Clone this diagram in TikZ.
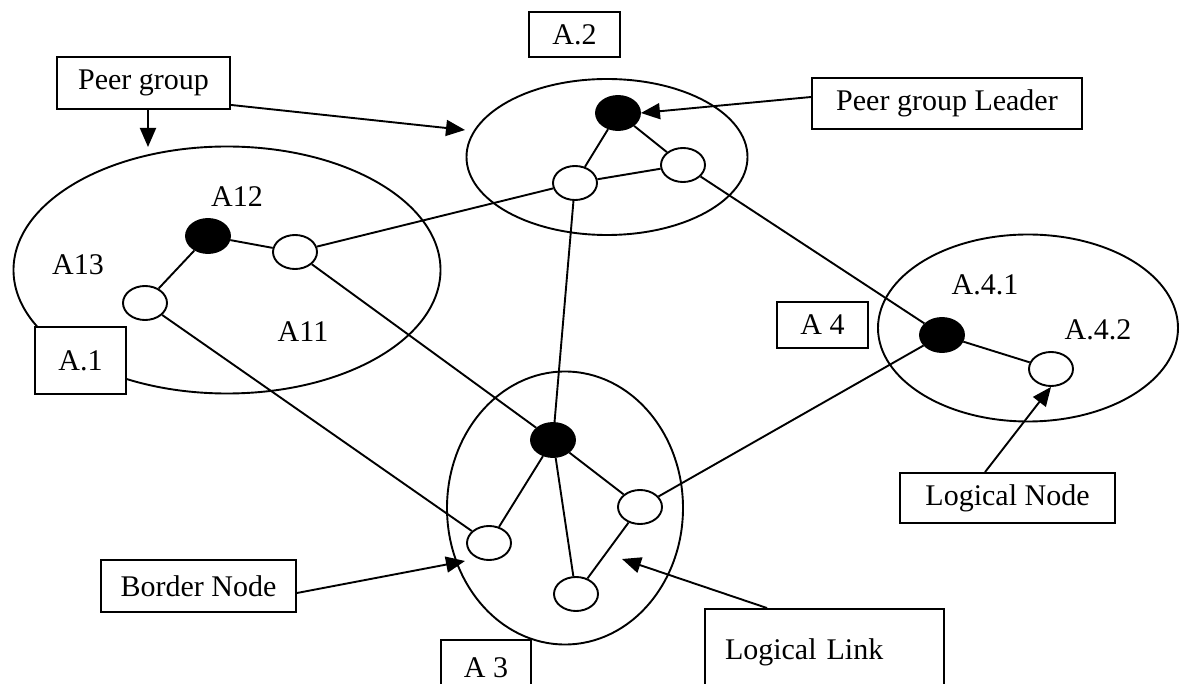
\documentclass[tikz,border=0pt]{standalone}
\usepackage{fontspec}
\setmainfont{Liberation Serif}
\usetikzlibrary{shapes.geometric,arrows.meta,calc}
\begin{document}
\begin{tikzpicture}[x=1pt,y=-1pt, line width=1.9pt,
  every node/.style={font=\fontsize{30}{36}\selectfont},
  area/.style={draw, ellipse, inner sep=0pt},
  lnode/.style={draw, ellipse, fill=white, minimum width=44pt, minimum height=34pt, inner sep=0pt},
  leadnode/.style={lnode, fill=black},
  tag/.style={draw, fill=white, inner sep=0pt},
  ptr/.style={-{Triangle[length=19pt,width=16pt]}}
]
\useasboundingbox (0,0) rectangle (1179,684);

% peer group areas
\node[area, minimum width=427pt, minimum height=247pt] (ga1) at (227,270) {};
\node[area, minimum width=281pt, minimum height=156pt] (ga2) at (607,157) {};
\node[area, minimum width=236pt, minimum height=273pt] (ga3) at (565,508) {};
\node[area, minimum width=300pt, minimum height=187pt] (ga4) at (1028,328) {};

% logical nodes
\node[leadnode] (a12) at (208,236) {};
\node[lnode] (a11) at (295,252) {};
\node[lnode] (a13) at (145,303) {};
\node[leadnode] (b0) at (618,113) {};
\node[lnode] (b1) at (575,183) {};
\node[lnode] (b2) at (683,165) {};
\node[leadnode] (c0) at (553,440) {};
\node[lnode] (c1) at (489,543) {};
\node[lnode] (c2) at (640,507) {};
\node[lnode] (c3) at (576,594) {};
\node[leadnode] (d1) at (942,335) {};
\node[lnode] (d2) at (1051,369) {};

% logical links
\draw (a12) -- (a13);
\draw (a12) -- (a11);
\draw (a11) -- (b1);
\draw (b0) -- (b1);
\draw (b0) -- (b2);
\draw (b1) -- (b2);
\draw (b2) -- (d1);
\draw (b1) -- (c0);
\draw (a11) -- (c0);
\draw (a13) -- (c1);
\draw (c0) -- (c1);
\draw (c0) -- (c2);
\draw (c0) -- (c3);
\draw (c2) -- (c3);
\draw (c2) -- (d1);
\draw (d1) -- (d2);

% node names
\node (la12) at (237,197) {A12};
\node (la13) at (78,265) {A13};
\node (la11) at (303,332) {A11};
\node (la41) at (985,285) {A.4.1};
\node (la42) at (1098,330) {A.4.2};

% boxed captions
\node[tag, minimum width=173pt, minimum height=52pt] (tpg) at (143.5,83) {Peer group};
\node[tag, minimum width=91pt, minimum height=45pt] (ta2) at (574.5,34.5) {A.2};
\node[tag, minimum width=270pt, minimum height=51pt] (tpl) at (947,103.5) {Peer group Leader};
\node[tag, minimum width=91pt, minimum height=67pt] (ta1) at (80.5,360.5) {A.1};
\node[tag, minimum width=91pt, minimum height=46pt] (ta4) at (822.5,325) {A 4};
\node[tag, minimum width=195pt, minimum height=52pt] (tbn) at (198.5,586) {Border Node};
\node[tag, minimum width=215pt, minimum height=50pt] (tln) at (1007.5,498) {Logical Node};
\node[tag, minimum width=239pt, minimum height=86pt, text width=199pt, inner xsep=20pt, align=left] (tll) at (824.5,652) {Logical Link};
\node[tag, minimum width=90pt, minimum height=56pt] (ta3) at (486,668) {A 3};

% pointers
\coordinate (p1) at (148,147);
\coordinate (p2) at (465,130);
\coordinate (p3) at (465,561);
\coordinate (p4) at (622,559);
\draw[ptr] (tpg.south -| p1) -- (p1);
\draw[ptr] ($(tpg.south east)+(0,-5)$) -- (p2);
\draw[ptr] ($(tpl.west)+(0,-6.5)$) -- (b0.east);
\draw[ptr] ($(tbn.east)+(0,7)$) -- (p3);
\draw[ptr] ($(tll.north west)+(63,0)$) -- (p4);
\draw[ptr] ($(tln.north west)+(86,0)$) -- (d2.south);
\end{tikzpicture}
\end{document}
